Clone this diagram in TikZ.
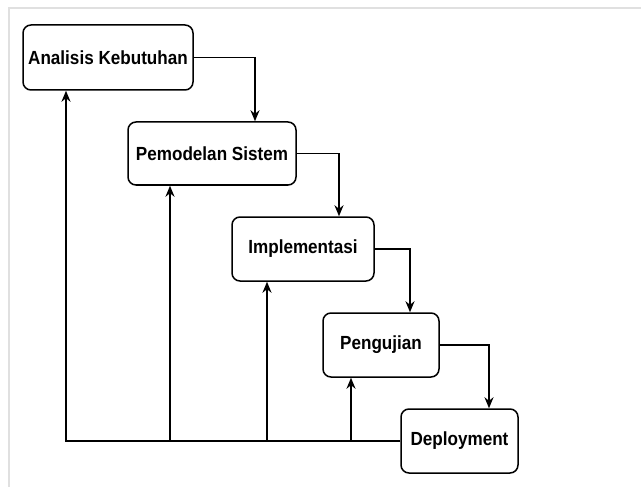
\documentclass[tikz,border=0pt]{standalone}
\usepackage{fontspec}
\newfontfamily\lab[FakeStretch=0.9]{Liberation Sans}
\usetikzlibrary{arrows.meta}
\begin{document}
\begin{tikzpicture}[x=1pt,y=-1pt,
  stage/.style={draw=black,line width=1.5pt,rounded corners=8pt,fill=white,
    inner sep=0pt,font=\lab\bfseries\fontsize{19}{22}\selectfont},
  flow/.style={line width=1.4pt,-{Stealth[length=11pt,width=9pt,inset=3.5pt]}},
  frame/.style={draw=black!12,line width=2pt}]
\useasboundingbox (0,0) rectangle (641,487);
\draw[frame] (9,487) -- (9,8) -- (641,8);
\node[stage,minimum width=170pt,minimum height=65pt] (b1) at (108,57.5) {Analisis Kebutuhan};
\node[stage,minimum width=168pt,minimum height=63pt] (b2) at (212,153.5) {Pemodelan Sistem};
\node[stage,minimum width=142pt,minimum height=64pt] (b3) at (303,249) {Implementasi};
\node[stage,minimum width=116pt,minimum height=64pt] (b4) at (381,345) {Pengujian};
\node[stage,minimum width=117pt,minimum height=64pt] (b5) at (459.5,441) {Deployment};
\draw[flow] (b1.east) -| ([xshift=43pt]b2.north);
\draw[flow] (b2.east) -| ([xshift=36pt]b3.north);
\draw[flow] (b3.east) -| ([xshift=29pt]b4.north);
\draw[flow] (b4.east) -| ([xshift=29.5pt]b5.north);
\coordinate (f1) at ([xshift=-42pt]b1.south);
\coordinate (f2) at ([xshift=-42pt]b2.south);
\coordinate (f3) at ([xshift=-36pt]b3.south);
\coordinate (f4) at ([xshift=-30pt]b4.south);
\draw[flow] (b5.west) -| (f1);
\draw[flow] (f2 |- b5.west) -- (f2);
\draw[flow] (f3 |- b5.west) -- (f3);
\draw[flow] (f4 |- b5.west) -- (f4);
\end{tikzpicture}
\end{document}
